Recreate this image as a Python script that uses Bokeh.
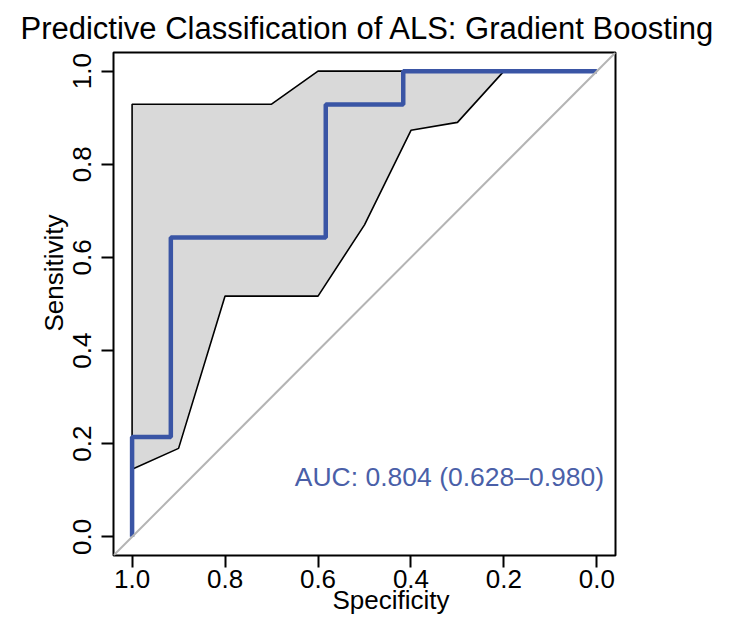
from bokeh.plotting import figure
from bokeh.models import Range1d, FixedTicker, PrintfTickFormatter, Label, Slope, Title
from bokeh.embed import file_html
from bokeh.resources import INLINE

# ---- data ----
roc_spec = [1.0, 1.0, 11/12, 11/12, 7/12, 7/12, 5/12, 5/12, 0.0]
roc_sens = [0.0, 3/14, 3/14, 9/14, 9/14, 13/14, 13/14, 1.0, 1.0]

ci_spec = [1.0, 0.9, 0.8, 0.7, 0.6, 0.5, 0.4, 0.3, 0.2, 0.1, 0.0]
ci_lower = [0.145, 0.19, 0.517, 0.517, 0.517, 0.67, 0.873, 0.89, 1.0, 1.0, 1.0]
ci_upper = [0.929, 0.929, 0.929, 0.929, 1.0, 1.0, 1.0, 1.0, 1.0, 1.0, 1.0]

ticks = [1.0, 0.8, 0.6, 0.4, 0.2, 0.0]
auc_text = "AUC: 0.804 (0.628\u20130.980)"
title_text = "Predictive Classification of ALS: Gradient Boosting"
x_label = "Specificity"
y_label = "Sensitivity"

FONT = "Liberation Sans"
BLUE = "#3a55a5"

p = figure(width=730, height=620, output_backend="svg", toolbar_location=None,
           x_range=Range1d(1.04, -0.04), y_range=Range1d(-0.04, 1.04),
           min_border_left=113, min_border_right=115, min_border_top=52,
           min_border_bottom=65)

p.title.text = title_text
p.title.text_font = FONT
p.title.text_font_size = "31px"
p.title.text_font_style = "normal"
p.title.text_color = "black"
p.title.align = "left"
p.title.offset = -93
p.title.standoff = 13

p.xgrid.visible = False
p.ygrid.visible = False
p.background_fill_color = "white"
p.border_fill_color = "white"
p.outline_line_color = "black"
p.outline_line_width = 2
p.outline_line_alpha = 1.0

for ax in (p.xaxis[0], p.yaxis[0]):
    ax.ticker = FixedTicker(ticks=ticks)
    ax.formatter = PrintfTickFormatter(format="%.1f")
    ax.axis_line_color = None
    ax.major_tick_in = 0
    ax.major_tick_out = 12
    ax.major_tick_line_width = 2
    ax.major_tick_line_color = "black"
    ax.minor_tick_line_color = None
    ax.major_label_text_font = FONT
    ax.major_label_text_font_size = "26px"
    ax.major_label_text_color = "black"
p.xaxis[0].major_label_standoff = 2
p.yaxis[0].major_label_standoff = 10
p.yaxis[0].major_label_orientation = "vertical"

# axis titles as side panels
xt = Title(text=x_label, text_font=FONT, text_font_size="26px",
           text_font_style="normal", text_color="black",
           align="left", offset=219, standoff=-12, vertical_align="top")
p.add_layout(xt, "below")
yt = Title(text=y_label, text_font=FONT, text_font_size="26px",
           text_font_style="normal", text_color="black",
           align="left", offset=224, standoff=4, vertical_align="bottom")
p.add_layout(yt, "left")

# CI polygon
poly_x = ci_spec + ci_spec[::-1]
poly_y = ci_lower + ci_upper[::-1]
p.patch(poly_x, poly_y, fill_color="#d9d9d9", line_color="black", line_width=1.6)

# chance diagonal
p.add_layout(Slope(gradient=-1, y_intercept=1, line_color="#b4b4b4", line_width=2))

# ROC curve
p.line(roc_spec, roc_sens, line_color=BLUE, line_width=4.5)

# AUC text
p.add_layout(Label(x=0.65, y=0.129, text=auc_text, text_font=FONT,
                   text_font_size="26.5px", text_color="#4a5fa8",
                   text_align="left", text_baseline="alphabetic"))

open("out.html", "w").write(file_html(p, INLINE))
